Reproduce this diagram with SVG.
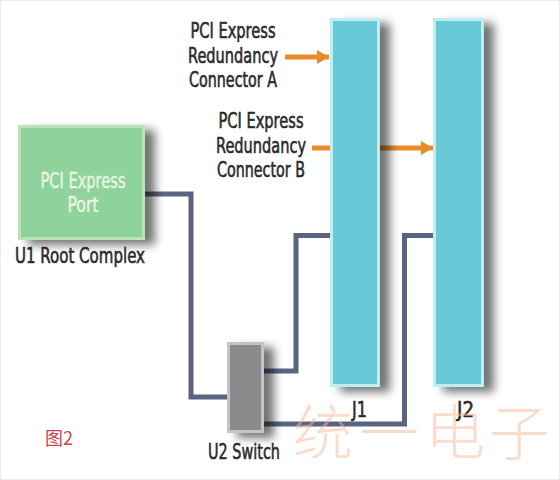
<svg xmlns="http://www.w3.org/2000/svg" width="560" height="480" viewBox="0 0 560 480">
  <defs>
    <filter id="sh" x="-40%" y="-10%" width="200%" height="130%">
      <feGaussianBlur in="SourceAlpha" stdDeviation="5"/>
      <feOffset dx="10" dy="5" result="b"/>
      <feComponentTransfer><feFuncA type="linear" slope="0.55"/></feComponentTransfer>
      <feMerge><feMergeNode/><feMergeNode in="SourceGraphic"/></feMerge>
    </filter>
    <marker id="arr" markerUnits="userSpaceOnUse" markerWidth="14" markerHeight="16" refX="12" refY="8" orient="auto">
      <path d="M0,1 L12,8 L0,15 Z" fill="#e8892a"/>
    </marker>
    <style>
      .lbl { font-family: "DejaVu Sans Condensed", "DejaVu Sans", sans-serif; font-stretch: condensed; font-size: 22px; fill: #2b2b2b; stroke: #2b2b2b; stroke-width: 0.6px; }
      .lt { fill: #e9f7e3; stroke: #e9f7e3; stroke-width: 0.4px; }
      .wire { fill: none; stroke: #5a6380; stroke-width: 5; stroke-linejoin: miter; }
      .orange { fill: none; stroke: #e8892a; stroke-width: 5; }
      .jbar { fill: #69c9d8; stroke: #bdeef0; stroke-width: 3; }
      .wm { font-family: "Noto Sans CJK SC", sans-serif; font-weight: 300; font-size: 60px; fill: #f6b89a; opacity: 0.5; }
    </style>
  </defs>
  <rect x="0" y="0" width="560" height="480" fill="#ffffff"/>
  <rect x="0.5" y="0.5" width="559" height="479" fill="none" stroke="#ececec" stroke-width="1"/>

  <g id="connectors">
    <polyline class="wire" points="145,194 191,194 191,397 228,397"/>
    <polyline class="wire" points="263,371 296,371 296,235.5 331,235.5"/>
    <polyline class="wire" points="263,424 404.5,424 404.5,235.5 433,235.5"/>
    <line class="orange" x1="285" y1="57" x2="329" y2="57" marker-end="url(#arr)"/>
    <line class="orange" x1="312" y1="148" x2="433" y2="148" marker-end="url(#arr)"/>
  </g>

  <g id="u1">
    <rect x="19.5" y="126.5" width="124" height="112" fill="#90d29b" stroke="#b9e3bb" stroke-width="3" filter="url(#sh)"/>
    <text class="lbl lt" x="83" y="188" text-anchor="middle" textLength="85" lengthAdjust="spacingAndGlyphs">PCI Express</text>
    <text class="lbl lt" x="83" y="212" text-anchor="middle" textLength="31" lengthAdjust="spacingAndGlyphs">Port</text>
    <text class="lbl" x="15" y="263" textLength="130" lengthAdjust="spacingAndGlyphs">U1 Root Complex</text>
  </g>

  <g id="u2">
    <rect x="228.5" y="343.5" width="34" height="88" fill="#8b8b8d" stroke="#c4c4c4" stroke-width="3" filter="url(#sh)"/>
    <text class="lbl" x="208" y="459" textLength="72" lengthAdjust="spacingAndGlyphs">U2 Switch</text>
  </g>

  <g id="j1">
    <rect class="jbar" x="331.5" y="19.5" width="47" height="366" filter="url(#sh)"/>
    <text class="lbl" x="352" y="417" textLength="15" lengthAdjust="spacingAndGlyphs">J1</text>
  </g>

  <g id="j2">
    <rect class="jbar" x="434.5" y="19.5" width="48" height="366" filter="url(#sh)"/>
    <text class="lbl" x="457" y="417" textLength="17" lengthAdjust="spacingAndGlyphs">J2</text>
  </g>

  <g id="labelA">
    <text class="lbl" x="233" y="38" text-anchor="middle" textLength="85" lengthAdjust="spacingAndGlyphs">PCI Express</text>
    <text class="lbl" x="233" y="63" text-anchor="middle" textLength="90" lengthAdjust="spacingAndGlyphs">Redundancy</text>
    <text class="lbl" x="233" y="87" text-anchor="middle" textLength="88" lengthAdjust="spacingAndGlyphs">Connector A</text>
  </g>

  <g id="labelB">
    <text class="lbl" x="261" y="128" text-anchor="middle" textLength="85" lengthAdjust="spacingAndGlyphs">PCI Express</text>
    <text class="lbl" x="261" y="153" text-anchor="middle" textLength="90" lengthAdjust="spacingAndGlyphs">Redundancy</text>
    <text class="lbl" x="261" y="177" text-anchor="middle" textLength="88" lengthAdjust="spacingAndGlyphs">Connector B</text>
  </g>

  <g id="watermark">
    <text class="wm" x="293" y="455">统</text>
    <text class="wm" x="359" y="455">一</text>
    <text class="wm" x="425" y="455">电</text>
    <text class="wm" x="489" y="455">子</text>
  </g>

  <text x="45" y="445" font-family="Noto Sans CJK SC, sans-serif" font-size="18" fill="#d0404e">图2</text>
</svg>
